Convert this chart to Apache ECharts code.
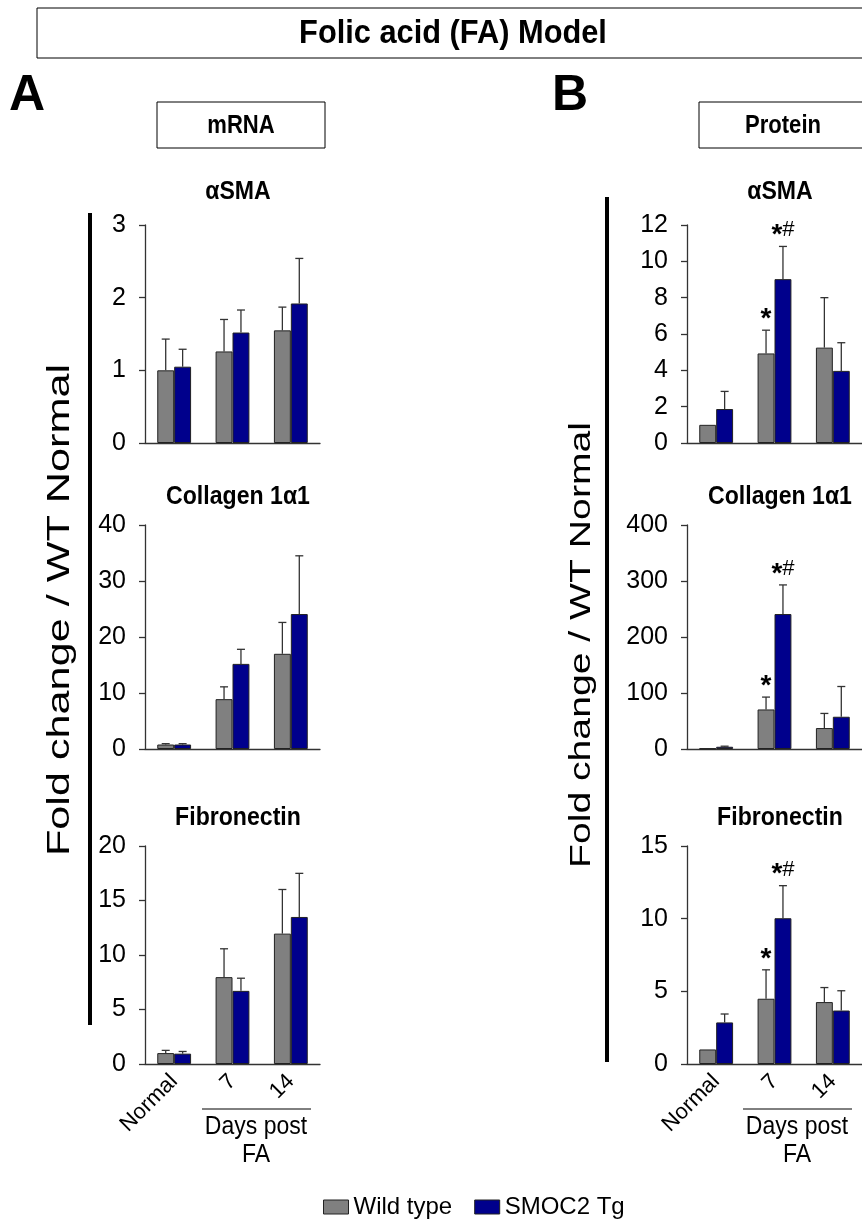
<!DOCTYPE html>
<html><head><meta charset="utf-8">
<script src="https://cdn.jsdelivr.net/npm/echarts@6/dist/echarts.min.js"></script>
<style>html,body{margin:0;padding:0;background:#fff}#c{width:862px;height:1220px}</style>
</head><body><div id="c"></div>
<script>
// ---------- DATA ----------
const categories = ['Normal', '7', '14'];
const seriesNames = ['Wild type', 'SMOC2 Tg'];
const chartTitles = ['αSMA', 'Collagen 1α1', 'Fibronectin'];

// Panel A: mRNA (mean, SD)
const mrnaSmaWT = [1.00, 1.26, 1.55];   const mrnaSmaWTsd = [0.43, 0.44, 0.32];
const mrnaSmaTg = [1.05, 1.52, 1.92];   const mrnaSmaTgsd = [0.24, 0.31, 0.62];
const mrnaColWT = [0.8, 8.9, 17.0];     const mrnaColWTsd = [0.15, 2.2, 5.6];
const mrnaColTg = [0.8, 15.2, 24.1];    const mrnaColTgsd = [0.15, 2.6, 10.4];
const mrnaFnWT  = [1.0, 7.97, 11.96];   const mrnaFnWTsd  = [0.25, 2.6, 4.05];
const mrnaFnTg  = [0.95, 6.71, 13.49];  const mrnaFnTgsd  = [0.2, 1.16, 4.0];

// Panel B: Protein (mean, SD)
const protSmaWT = [1.0, 4.93, 5.25];    const protSmaWTsd = [0, 1.28, 2.75];
const protSmaTg = [1.87, 9.02, 3.97];   const protSmaTgsd = [0.97, 1.80, 1.55];
const protColWT = [1, 70.6, 37.4];      const protColWTsd = [0, 22.1, 26.1];
const protColTg = [4, 241, 57.6];       const protColTgsd = [1, 52, 54];
const protFnWT  = [1.0, 4.49, 4.26];    const protFnWTsd  = [0, 1.99, 1.0];
const protFnTg  = [2.86, 10.03, 3.68];  const protFnTgsd  = [0.58, 2.24, 1.36];

// significance marks (protein)
const protSigWT = ['', '*', ''];
const protSigTg = ['', '*#', ''];
const noSig = ['', '', ''];

// axis scales
const mrnaMax = [3, 40, 20];  const mrnaInterval = [1, 10, 5];
const protMax = [12, 400, 15]; const protInterval = [2, 100, 5];

// ---------- LAYOUT ----------
const FONT = 'Liberation Sans, Arial, sans-serif';
const colWT = '#808080', colTg = '#00008C';
const rows = [{top: 225, height: 218}, {top: 525, height: 224}, {top: 846, height: 218}];
const lefts = [145, 687];
const gridW = 175;
const catGap = 0.42;

const charts = [
  {wt: mrnaSmaWT, wsd: mrnaSmaWTsd, tg: mrnaSmaTg, tsd: mrnaSmaTgsd, max: mrnaMax[0], itv: mrnaInterval[0], sw: noSig, st: noSig},
  {wt: mrnaColWT, wsd: mrnaColWTsd, tg: mrnaColTg, tsd: mrnaColTgsd, max: mrnaMax[1], itv: mrnaInterval[1], sw: noSig, st: noSig},
  {wt: mrnaFnWT, wsd: mrnaFnWTsd, tg: mrnaFnTg, tsd: mrnaFnTgsd, max: mrnaMax[2], itv: mrnaInterval[2], sw: noSig, st: noSig},
  {wt: protSmaWT, wsd: protSmaWTsd, tg: protSmaTg, tsd: protSmaTgsd, max: protMax[0], itv: protInterval[0], sw: protSigWT, st: protSigTg},
  {wt: protColWT, wsd: protColWTsd, tg: protColTg, tsd: protColTgsd, max: protMax[1], itv: protInterval[1], sw: protSigWT, st: protSigTg},
  {wt: protFnWT, wsd: protFnWTsd, tg: protFnTg, tsd: protFnTgsd, max: protMax[2], itv: protInterval[2], sw: protSigWT, st: protSigTg}
];

const grid = [], xAxis = [], yAxis = [], series = [];

function errRender(sign, sigArr) {
  return function (params, api) {
    const idx = api.value(0), v = api.value(1), e = api.value(2);
    const band = api.size([1, 0])[0];
    const barW = band * (1 - catGap) / 2;
    const base = api.coord([idx, v]);
    const top = api.coord([idx, e]);
    const x = base[0] + sign * barW / 2;
    const children = [];
    if (e > v) {
      children.push({type: 'line', shape: {x1: x, y1: base[1], x2: x, y2: top[1]}, style: {stroke: '#333', lineWidth: 1.3}});
      children.push({type: 'line', shape: {x1: x - 4, y1: top[1], x2: x + 4, y2: top[1]}, style: {stroke: '#333', lineWidth: 1.3}});
    }
    const s = sigArr[params.dataIndex];
    if (s) {
      const rich = s.split('').map(ch => ch === '*' ? '{a|*}' : '{h|' + ch + '}').join('');
      children.push({type: 'text', x: x, y: top[1] - 4, style: {
        text: rich, align: 'center', verticalAlign: 'bottom',
        rich: {a: {fontSize: 28, fontWeight: 'bold', fontFamily: FONT, fill: '#000', lineHeight: 24, padding: [10, 0, 0, 0]},
               h: {fontSize: 22, fontFamily: FONT, fill: '#000', lineHeight: 24}}
      }});
    }
    return {type: 'group', children: children};
  };
}

const graphic = [];
function gText(x, y, text, size, bold, sx, sy, extra) {
  graphic.push(Object.assign({type: 'text', x: x, y: y, scaleX: sx, scaleY: sy,
    style: {text: text, fontSize: size, fontWeight: bold ? 'bold' : 'normal', fontFamily: FONT, fill: '#000', align: 'center', verticalAlign: 'middle'}}, extra || {}));
}

charts.forEach((c, i) => {
  const col = Math.floor(i / 3), row = i % 3;
  grid.push({left: lefts[col], top: rows[row].top, width: gridW, height: rows[row].height, containLabel: false});
  const bottomRow = row === 2;
  xAxis.push({
    gridIndex: i, type: 'category', data: categories,
    axisLine: {show: true, lineStyle: {color: '#333', width: 1.3}},
    axisTick: {show: false},
    axisLabel: {show: bottomRow, rotate: 45, fontSize: 22, color: '#000', fontFamily: FONT, margin: 14}
  });
  yAxis.push({
    gridIndex: i, type: 'value', min: 0, max: c.max, interval: c.itv,
    axisLine: {show: true, lineStyle: {color: '#333', width: 1.3}},
    axisTick: {show: true, length: 6, lineStyle: {color: '#333', width: 1.3}},
    splitLine: {show: false},
    axisLabel: {fontSize: 25, color: '#000', fontFamily: FONT, margin: 19}
  });
  gText(lefts[col] + 93, rows[row].top - (row === 0 ? 33 : 28), chartTitles[row], 22, true, 1.05, 1.2);
  series.push({
    name: seriesNames[0], type: 'bar', xAxisIndex: i, yAxisIndex: i, data: c.wt,
    barGap: '0%', barCategoryGap: (catGap * 100) + '%',
    itemStyle: {color: colWT, borderColor: '#222', borderWidth: 1}
  });
  series.push({
    name: seriesNames[1], type: 'bar', xAxisIndex: i, yAxisIndex: i, data: c.tg,
    barGap: '0%', barCategoryGap: (catGap * 100) + '%',
    itemStyle: {color: colTg, borderColor: '#222', borderWidth: 1}
  });
  series.push({
    type: 'custom', xAxisIndex: i, yAxisIndex: i, z: 5,
    renderItem: errRender(-1, c.sw),
    data: c.wt.map((v, k) => [k, v, v + c.wsd[k]])
  });
  series.push({
    type: 'custom', xAxisIndex: i, yAxisIndex: i, z: 5,
    renderItem: errRender(1, c.st),
    data: c.tg.map((v, k) => [k, v, v + c.tsd[k]])
  });
});

graphic.push({type: 'rect', shape: {x: 37, y: 8, width: 900, height: 50}, style: {fill: 'none', stroke: '#000', lineWidth: 1}});
gText(453, 34, 'Folic acid (FA) Model', 27, true, 1.14, 1.25);
gText(27, 96, 'A', 50, true, 1, 1);
gText(570, 96, 'B', 50, true, 1, 1);
graphic.push({type: 'rect', shape: {x: 157, y: 102, width: 168, height: 46}, style: {fill: 'none', stroke: '#000', lineWidth: 1}});
gText(241, 126, 'mRNA', 21, true, 1.05, 1.25);
graphic.push({type: 'rect', shape: {x: 699, y: 102, width: 200, height: 46}, style: {fill: 'none', stroke: '#000', lineWidth: 1}});
gText(783, 126, 'Protein', 21, true, 1.05, 1.25);
graphic.push({type: 'rect', shape: {x: 88, y: 213, width: 4, height: 812}, style: {fill: '#000'}});
graphic.push({type: 'rect', shape: {x: 605, y: 197, width: 4, height: 865}, style: {fill: '#000'}});
gText(60, 610, 'Fold change / WT Normal', 32, false, 1.35, 1, {rotation: Math.PI / 2});
gText(582, 645, 'Fold change / WT Normal', 29, false, 1.35, 1, {rotation: Math.PI / 2});
graphic.push({type: 'line', shape: {x1: 202, y1: 1109, x2: 311, y2: 1109}, style: {stroke: '#000', lineWidth: 1}});
gText(256, 1127, 'Days post', 23, false, 1, 1.1);
gText(256, 1155, 'FA', 23, false, 1, 1.1);
graphic.push({type: 'line', shape: {x1: 743, y1: 1109, x2: 852, y2: 1109}, style: {stroke: '#000', lineWidth: 1}});
gText(797, 1127, 'Days post', 23, false, 1, 1.1);
gText(797, 1155, 'FA', 23, false, 1, 1.1);

const chart = echarts.init(document.getElementById('c'), null, {renderer: 'canvas'});
chart.setOption({
  backgroundColor: '#fff',
  animation: false,
  grid: grid, xAxis: xAxis, yAxis: yAxis, series: series,
  legend: {
    data: seriesNames, left: 318, top: 1190, itemWidth: 25, itemHeight: 14, itemGap: 22,
    icon: 'rect', textStyle: {fontSize: 24, color: '#000', fontFamily: FONT},
    itemStyle: {borderColor: '#222', borderWidth: 1}
  },
  graphic: graphic
});
</script></body></html>
